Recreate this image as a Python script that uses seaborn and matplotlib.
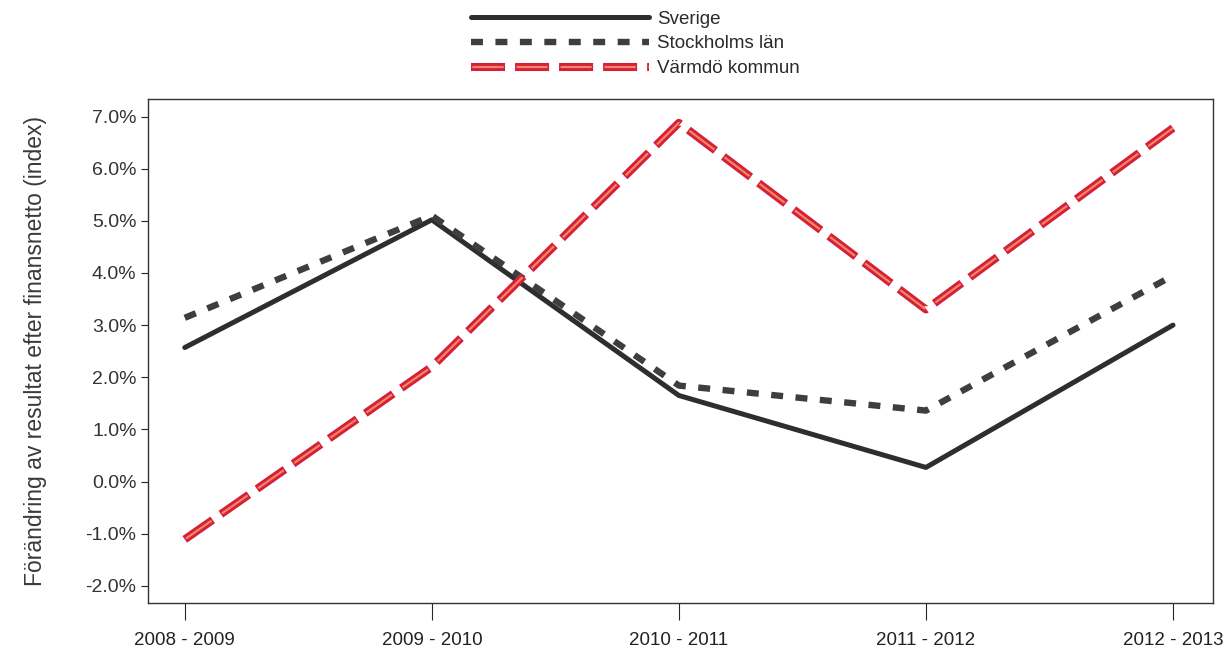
import matplotlib
matplotlib.use("Agg")
import matplotlib.pyplot as plt
import pandas as pd
import seaborn as sns
from matplotlib.legend_handler import HandlerTuple
from matplotlib.ticker import FuncFormatter

periods = ["2008 - 2009", "2009 - 2010", "2010 - 2011", "2011 - 2012", "2012 - 2013"]
sverige = [2.57, 5.02, 1.65, 0.27, 3.00]
stockholm = [3.14, 5.10, 1.84, 1.36, 3.95]
varmdo = [-1.11, 2.20, 6.88, 3.30, 6.78]

sns.set_style("white")
plt.rcParams["font.family"] = ["Liberation Sans", "DejaVu Sans"]
plt.rcParams["lines.scale_dashes"] = False

df = pd.DataFrame({"period": periods, "Sverige": sverige,
                   "Stockholms län": stockholm, "Värmdö kommun": varmdo})
df["x"] = range(len(periods))

fig, ax = plt.subplots(figsize=(12.31, 6.59), dpi=100)

# Sverige - solid
sns.lineplot(data=df, x="x", y="Sverige", ax=ax, color="#2e2e2e", lw=3.6)
# Stockholms län - short dashes
sns.lineplot(data=df, x="x", y="Stockholms län", ax=ax, color="#3b3f3f", lw=4.6)
ax.lines[-1].set_linestyle((0, (8.6, 9.0)))
# Värmdö kommun - red long dashes with orange core
sns.lineplot(data=df, x="x", y="Värmdö kommun", ax=ax, color="#d41f3d", lw=5.8)
ax.lines[-1].set_linestyle((0, (24.5, 7.2)))
sns.lineplot(data=df, x="x", y="Värmdö kommun", ax=ax, color="#f5875a", lw=1.6)
ax.lines[-1].set_linestyle((30.7, (22.5, 9.2)))

l1, l2, l3, l4 = ax.lines[:4]
ax.legend([l1, l2, (l3, l4)], ["Sverige", "Stockholms län", "Värmdö kommun"],
          handler_map={tuple: HandlerTuple(ndivide=1, pad=0)},
          loc="lower center", bbox_to_anchor=(0.458, 1.0), frameon=False,
          fontsize=13.5, handlelength=9.5, handletextpad=0.45, labelspacing=0.4,
          borderaxespad=0.76, labelcolor="#2a2a2a")

ax.set_xlim(-0.15, 4.16)
ax.set_ylim(-2.33, 7.34)
ax.set_xticks(range(len(periods)))
ax.set_xticklabels(periods, fontsize=13.5, color="#222222")
ax.set_yticks([-2, -1, 0, 1, 2, 3, 4, 5, 6, 7])
ax.yaxis.set_major_formatter(FuncFormatter(lambda v, p: f"{v:.1f}%"))
ax.tick_params(axis="y", labelsize=14, labelcolor="#333333", left=True,
               length=5, width=0.8, pad=3)
ax.tick_params(axis="x", bottom=True, length=12, width=0.8, pad=9)
ax.set_xlabel("")
ax.set_ylabel("Förändring av resultat efter finansnetto (index)", fontsize=16.5,
              color="#3a3a3a", labelpad=28)
for s in ax.spines.values():
    s.set_color("#333333")
    s.set_linewidth(1.0)

fig.subplots_adjust(left=0.12, right=0.985, top=0.85, bottom=0.085)
fig.savefig("out.png", dpi=100)
